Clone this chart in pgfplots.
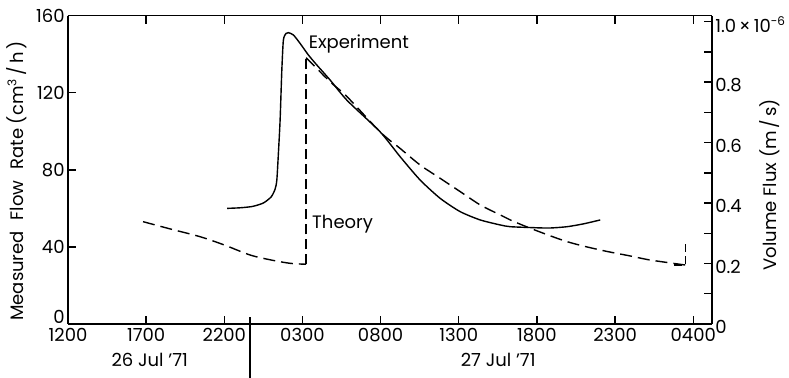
\documentclass[border=0pt]{standalone}
\usepackage{pgfplots}
\pgfplotsset{compat=1.18}
\usepackage{fontspec}
\setmainfont{Poppins}

\pgfplotstableread{
h v
10.18 60.0
11.0 60.3
11.8 61.0
12.5 62.8
13.0 66.0
13.25 70.0
13.36 74.7
13.46 88.5
13.57 105.9
13.68 131.8
13.78 147.4
13.95 150.8
14.1 151.2
14.42 150.0
14.85 145.6
15.38 139.6
15.92 134.4
16.77 126.6
17.86 116.0
19.97 99.7
21.25 86.8
22.53 74.7
23.81 65.2
25.09 58.3
26.37 54.0
27.65 51.4
28.29 50.5
29.76 50.0
30.8 49.8
31.94 50.5
33.0 52.0
34.05 54.0
}\experiment

\pgfplotstableread{
h v
4.8 53.1
6.6 49.2
8.45 45.3
10.0 41.0
11.65 35.8
13.0 33.2
14.2 31.5
15.23 31.0
}\theoryA

\pgfplotstableread{
h v
15.23 138.2
15.49 136.1
16.77 125.7
17.86 117.9
19.97 99.7
21.25 91.1
22.53 82.5
23.81 75.6
25.09 68.7
26.37 61.8
27.65 56.6
28.29 54.0
29.76 49.1
31.94 42.7
34.05 38.4
35.97 35.3
37.25 33.2
39.49 30.6
}\theoryB

\begin{document}
\fontsize{9}{11}\selectfont
\begin{tikzpicture}
\pgfplotsset{
  base/.style={
    width=322pt, height=154.15pt, scale only axis,
    at={(0pt,0pt)}, anchor=south west,
    xmin=0, xmax=41.2,
    axis line style={line width=0.8pt},
    major tick length=4pt,
    tick style={line width=0.7pt, black},
  }
}
\begin{axis}[base,
  ymin=0, ymax=160,
  axis y line*=left,
  xtick={0,5,...,40},
  xticklabels={1200,1700,2200,0300,0800,1300,1800,2300,0400},
  ytick={40,80,120,160},
  yticklabels={40,80,120,160},
  extra y ticks={0},
  extra y tick labels={0},
  extra y tick style={yticklabel style={yshift=3.5pt}},
  xticklabel style={inner sep=1pt, yshift=-1pt},
  yticklabel style={inner sep=1.5pt},
  ylabel={Measured\hspace{0.6em}Flow\hspace{0.6em}Rate\ (cm\textsuperscript{3}\,/\,h\,)},
  every axis y label/.style={at={(axis description cs:-0.079,0.464)}, rotate=90, anchor=center},
  clip=false,
]
\addplot[black, line width=0.7pt, smooth, tension=0.4] table[x=h, y=v] {\experiment};
\addplot[black, line width=0.7pt, smooth, dash pattern=on 6pt off 3pt] table[x=h, y=v] {\theoryA};
\addplot[black, line width=0.7pt, dash pattern=on 5pt off 2.5pt] coordinates {(15.23,31.0) (15.23,138.2)};
\addplot[black, line width=0.7pt, smooth, dash pattern=on 6pt off 3pt] table[x=h, y=v] {\theoryB};
\addplot[black, line width=0.7pt, dash pattern=on 4pt off 2pt] coordinates {(38.8,30.6) (39.49,30.6) (39.49,43.6)};
\node[anchor=base west, inner sep=0pt] at (axis cs:15.38,143.2) {Experiment};
\node[anchor=base west, inner sep=0pt] at (axis cs:15.6,49.8) {Theory};
\node at (axis description cs:0.127,-0.117) {26 Jul '71};
\node at (axis description cs:0.668,-0.117) {27 Jul '71};
\draw[line width=0.7pt] (axis cs:11.65,3.6) -- (axis cs:11.65,-30);
\end{axis}
\begin{axis}[base,
  ymin=0, ymax=1.02,
  axis y line*=right, axis x line=none,
  ytick={0,0.1,0.2,0.3,0.4,0.5,0.6,0.7,0.8,0.9,1.0},
  yticklabels={0,,0.2,,0.4,,0.6,,0.8,,{1.0\,×\,10\textsuperscript{-6}}},
  yticklabel style={anchor=west, inner sep=1.5pt, yshift=-1.5pt},
  ylabel={Volume\ Flux\ (m\,/\,s)},
  every axis y label/.style={at={(axis description cs:1.090,0.452)}, rotate=90, anchor=center},
]
\addplot[draw=none] coordinates {(0,0)};
\end{axis}
\pgfresetboundingbox
\path[use as bounding box] (-34pt,-27pt) rectangle (360.5pt,162pt);
\end{tikzpicture}
\end{document}
